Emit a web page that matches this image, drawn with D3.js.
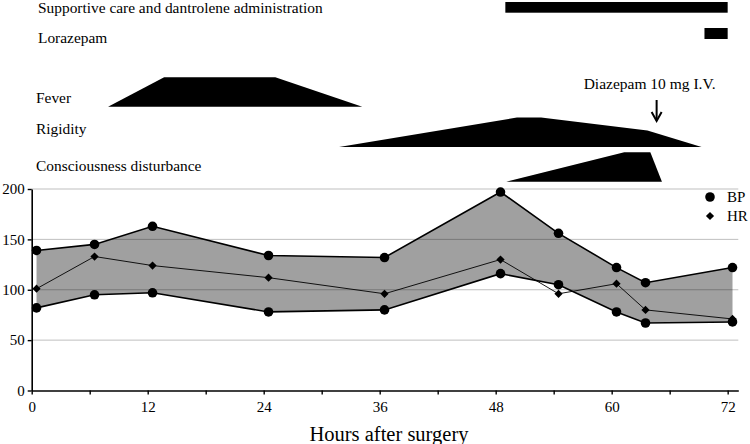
<!DOCTYPE html>
<html>
<head>
<meta charset="utf-8">
<script src="https://cdn.jsdelivr.net/npm/d3@7"></script>
<style>
  body { margin: 0; background: #fff; }
  svg { display: block; }
  text { font-family: "Liberation Serif", "Times New Roman", serif; fill: #000; }
</style>
</head>
<body>
<svg id="chart" width="750" height="444"></svg>
<script>
// ---- Data ----
const hours = [0, 6, 12, 24, 36, 48, 54, 60, 63, 72];
const bpUpper = [139, 145, 163, 134, 132, 197, 156, 122, 107, 122];
const bpLower = [82, 95, 97, 78, 80, 116, 105, 78, 67, 68];
const hr = [101, 133, 124, 112, 96, 130, 96, 106, 80, 71];

const xTicks = [0, 6, 12, 18, 24, 30, 36, 42, 48, 54, 60, 66, 72];
const yTicks = [0, 50, 100, 150, 200];

// Treatment bars (hours)
const treatments = ["Supportive care and dantrolene administration", "Lorazepam"];
const treatStart = [49, 69.6];
const treatEnd = [72, 72];

// Symptom profiles (hours, relative intensity 0..1)
const symptoms = ["Fever", "Rigidity", "Consciousness disturbance"];
const feverHours = [7.9, 13.7, 25.2, 34.2];
const feverLevel = [0, 1, 1, 0];
const rigidityHours = [31.8, 50.2, 52.7, 63.7, 69.3];
const rigidityLevel = [0, 1, 1, 0.56, 0];
const consciousHours = [49.1, 61.3, 64.0, 65.2];
const consciousLevel = [0, 1, 1, 0];

const diazepamLabel = "Diazepam 10 mg I.V.";
const diazepamHour = 64.65;

// ---- Scales ----
const svg = d3.select("#chart");
const x = d3.scaleLinear().domain([0, 73.1]).range([31.7, 738.3]);
const y = d3.scaleLinear().domain([0, 200]).range([390.5, 189]);
const ptOffset = 0.5; // points sit half an hour right of the tick
const xp = h => x(h + ptOffset);

const bp = hours.map((h, i) => ({ h, up: bpUpper[i], lo: bpLower[i], hr: hr[i] }));

// ---- Gray band between BP values ----
svg.append("path")
  .datum(bp)
  .attr("d", d3.area().x(d => xp(d.h)).y0(d => y(d.lo)).y1(d => y(d.up)))
  .attr("fill", "#a0a0a0");

// ---- Gridlines ----
svg.append("g").selectAll("line")
  .data(yTicks.filter(t => t > 0))
  .join("line")
  .attr("x1", x(0)).attr("x2", x(73.1))
  .attr("y1", d => y(d)).attr("y2", d => y(d))
  .attr("stroke", "rgba(0,0,0,0.25)")
  .attr("stroke-width", 1);

// ---- Lines ----
const line = key => d3.line().x(d => xp(d.h)).y(d => y(d[key]));
svg.append("path").datum(bp).attr("d", line("up"))
  .attr("fill", "none").attr("stroke", "#000").attr("stroke-width", 1.6);
svg.append("path").datum(bp).attr("d", line("lo"))
  .attr("fill", "none").attr("stroke", "#000").attr("stroke-width", 1.6);
svg.append("path").datum(bp).attr("d", line("hr"))
  .attr("fill", "none").attr("stroke", "#000").attr("stroke-width", 0.9);

// ---- Markers ----
const circle = d3.symbol().type(d3.symbolCircle).size(72);
const diamond = d3.symbol().type(d3.symbolSquare).size(34);
["up", "lo"].forEach(k => {
  svg.append("g").selectAll("path").data(bp).join("path")
    .attr("d", circle)
    .attr("transform", d => `translate(${xp(d.h)},${y(d[k])})`)
    .attr("fill", "#000");
});
svg.append("g").selectAll("path").data(bp).join("path")
  .attr("d", diamond)
  .attr("transform", d => `translate(${xp(d.h)},${y(d.hr)}) rotate(45)`)
  .attr("fill", "#000");

// ---- Axes ----
const xAxis = d3.axisBottom(x).tickValues(xTicks).tickSize(4).tickSizeOuter(0)
  .tickFormat(d => d % 12 === 0 ? d : "");
const gx = svg.append("g").attr("transform", `translate(0,${y(0)})`).call(xAxis);
gx.select(".domain").attr("stroke", "#000").attr("stroke-width", 1.6);
gx.selectAll(".tick line").attr("stroke", "#000").attr("stroke-width", 1.4);
gx.selectAll(".tick text").attr("font-size", 15).attr("dy", "0.95em")
  .style("font-family", '"Liberation Serif", serif');

const yAxis = d3.axisLeft(y).tickValues(yTicks).tickSize(4).tickSizeOuter(0);
const gy = svg.append("g").attr("transform", `translate(${x(0)},0)`).call(yAxis);
gy.select(".domain").attr("stroke", "#000").attr("stroke-width", 1.6);
gy.selectAll(".tick line").attr("stroke", "#000").attr("stroke-width", 1.4);
gy.selectAll(".tick text").attr("font-size", 15).attr("x", -7)
  .style("font-family", '"Liberation Serif", serif');

svg.append("text")
  .attr("x", 389).attr("y", 441)
  .attr("text-anchor", "middle")
  .attr("font-size", 20.5)
  .text("Hours after surgery");

// ---- Legend ----
const legend = [{ label: "BP", sym: circle, yy: 197, rot: 0 }, { label: "HR", sym: diamond, yy: 216, rot: 45 }];
legend.forEach(l => {
  svg.append("path").attr("d", l.sym)
    .attr("transform", `translate(710,${l.yy}) rotate(${l.rot})`).attr("fill", "#000");
  svg.append("text").attr("x", 727).attr("y", l.yy).attr("dy", "0.35em")
    .attr("font-size", 15).text(l.label);
});

// ---- Treatment bars ----
const treatY = [2, 28];
const treatH = [10.7, 11];
const treatTextY = [12.5, 43];
treatments.forEach((t, i) => {
  svg.append("rect")
    .attr("x", x(treatStart[i])).attr("width", x(treatEnd[i]) - x(treatStart[i]))
    .attr("y", treatY[i]).attr("height", treatH[i]).attr("fill", "#000");
  svg.append("text").attr("x", 38).attr("y", treatTextY[i]).attr("font-size", 15.4).text(t);
});

// ---- Symptom profiles ----
const bandBase = [106.7, 147, 181.7];
const bandHeight = 29.4;
const bandTextY = [102.5, 134, 171];
const profiles = [
  [feverHours, feverLevel],
  [rigidityHours, rigidityLevel],
  [consciousHours, consciousLevel]
];
profiles.forEach(([hs, lv], i) => {
  const lvl = d3.scaleLinear().domain([0, 1]).range([bandBase[i], bandBase[i] - bandHeight]);
  const pts = hs.map((h, j) => [x(h), lvl(lv[j])]);
  svg.append("path")
    .attr("d", d3.line()(pts) + "Z")
    .attr("fill", "#000");
  svg.append("text").attr("x", 36).attr("y", bandTextY[i]).attr("font-size", 15.4).text(symptoms[i]);
});

// ---- Diazepam annotation ----
const ax = x(diazepamHour);
svg.append("text").attr("x", ax - 7).attr("y", 89).attr("text-anchor", "middle")
  .attr("font-size", 15.5).text(diazepamLabel);
svg.append("line").attr("x1", ax).attr("x2", ax).attr("y1", 100).attr("y2", 120.5)
  .attr("stroke", "#000").attr("stroke-width", 2);
svg.append("path")
  .attr("d", `M${ax - 5},${112} L${ax},${121} L${ax + 5},${112}`)
  .attr("fill", "none").attr("stroke", "#000").attr("stroke-width", 2);
</script>
</body>
</html>
